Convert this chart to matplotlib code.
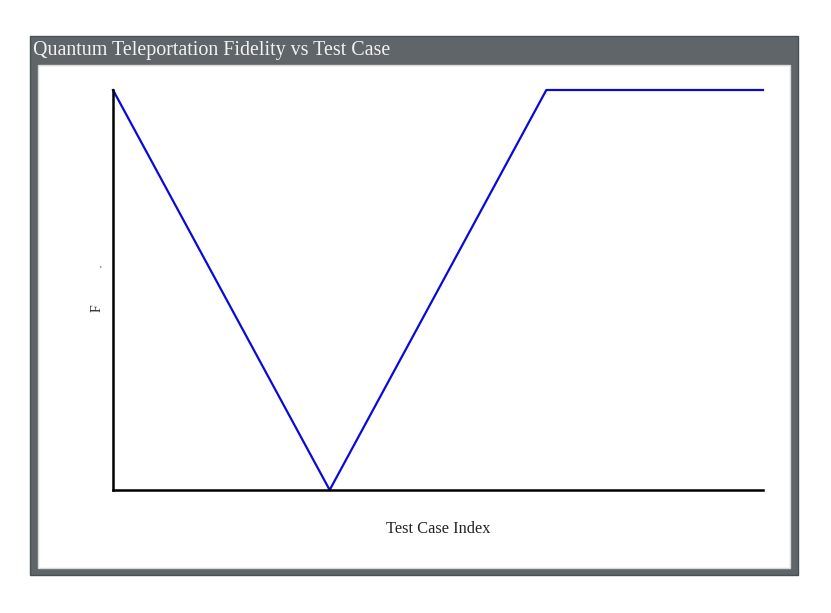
import numpy as np
import matplotlib.pyplot as plt
from matplotlib.patches import Rectangle

test_case = [0, 1, 2, 3]
fidelity = [1.0, 0.0, 1.0, 1.0]

title = 'Quantum Teleportation Fidelity vs Test Case'
xlabel = 'Test Case Index'

W, H = 831, 613
fig = plt.figure(figsize=(W / 100, H / 100), dpi=100)
plt.rcParams['font.family'] = ['Liberation Serif', 'DejaVu Serif']

def px(x0, y0, x1, y1):
    # pixel box (top-left origin) -> figure fraction rect
    return (x0 / W, 1 - y1 / H), (x1 - x0) / W, (y1 - y0) / H

grey = '#5f6568'
xy, w, h = px(30, 36, 798, 575)
fig.patches.append(Rectangle(xy, w, h, transform=fig.transFigure, facecolor=grey,
                             edgecolor='#4a4f52', lw=1, zorder=0))
xy, w, h = px(38, 65, 790, 568)
fig.patches.append(Rectangle(xy, w, h, transform=fig.transFigure, facecolor='white',
                             edgecolor='#d8d8d8', lw=1, zorder=0.5))
fig.text(33 / W, 1 - 50 / H, title, color='#f2f2f2', fontsize=14.4, va='center', ha='left')

ax = fig.add_axes([113 / W, 1 - 490 / H, (763 - 113) / W, (490 - 90) / H])
ax.set_zorder(2)
ax.patch.set_alpha(0)
ax.plot(test_case, fidelity, color='#0a0ad8', lw=1.6, clip_on=False)
ax.set_xlim(min(test_case), max(test_case))
ax.set_ylim(min(fidelity), max(fidelity))
ax.set_xticks([])
ax.set_yticks([])
for s in ['top', 'right']:
    ax.spines[s].set_visible(False)
for s in ['left', 'bottom']:
    ax.spines[s].set_linewidth(1.8)
    ax.spines[s].set_color('black')
ax.set_xlabel(xlabel, fontsize=11.8, color='#222222', labelpad=22)
fig.text(97 / W, 1 - 308 / H, 'F', rotation=90, fontsize=10, color='#222222',
         ha='center', va='center')
fig.text(100 / W, 1 - 270 / H, "'", fontsize=7, color='#444444', ha='center', va='center')

fig.savefig('out.png', dpi=100)
